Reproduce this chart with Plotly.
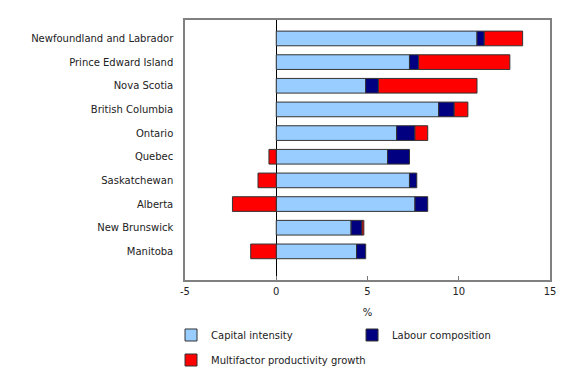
import plotly.graph_objects as go

provinces = ["Newfoundland and Labrador", "Prince Edward Island", "Nova Scotia",
             "British Columbia", "Ontario", "Quebec", "Saskatchewan", "Alberta",
             "New Brunswick", "Manitoba"]
capital_intensity = [11.0, 7.3, 4.9, 8.9, 6.6, 6.1, 7.3, 7.6, 4.1, 4.4]
labour_composition = [0.4, 0.5, 0.7, 0.85, 1.0, 1.2, 0.4, 0.7, 0.6, 0.5]
mfp_growth = [2.1, 5.0, 5.4, 0.75, 0.7, -0.4, -1.0, -2.4, 0.1, -1.4]
x_ticks = [-5, 0, 5, 10, 15]
x_tick_labels = ["-5", "0", "5", "10", "15"]

FONT = "DejaVu Sans"
line = dict(color="#333333", width=1)

fig = go.Figure()
fig.add_trace(go.Bar(y=provinces, x=capital_intensity, orientation="h",
                     name="Capital intensity", width=0.62, legend="legend",
                     marker=dict(color="#99CCFF", line=line)))
fig.add_trace(go.Bar(y=provinces, x=labour_composition, orientation="h",
                     name="Labour composition", width=0.62, legend="legend",
                     marker=dict(color="#000080", line=line)))
fig.add_trace(go.Bar(y=provinces, x=mfp_growth, orientation="h",
                     name="Multifactor productivity growth", width=0.62,
                     legend="legend2",
                     marker=dict(color="#FF0000", line=line)))

leg_common = dict(orientation="h", xref="container", yref="container",
                  xanchor="left", yanchor="middle",
                  font=dict(size=10, family=FONT, color="#222222"))

fig.update_layout(
    width=572, height=362,
    margin=dict(l=177, r=30, t=12, b=90, autoexpand=False),
    barmode="relative",
    plot_bgcolor="white", paper_bgcolor="white",
    font=dict(family=FONT, size=10, color="#222222"),
    showlegend=True,
    legend=dict(x=0.285, y=0.0967, entrywidth=136, **leg_common),
    legend2=dict(x=0.285, y=0.0276, **leg_common),
    xaxis=dict(range=[-5, 15], tickvals=x_ticks, ticktext=x_tick_labels,
               ticks="inside", ticklen=4, ticklabelstandoff=1, automargin=False,
               tickcolor="#777777", showgrid=False, zeroline=True,
               zerolinecolor="black", zerolinewidth=1,
               showline=True, linecolor="#808080", linewidth=1.5, mirror=True,
               title=dict(text="%", standoff=13, font=dict(size=10)),
               tickfont=dict(size=10)),
    yaxis=dict(categoryorder="array", categoryarray=provinces,
               range=[10.21, -0.78], showgrid=False, ticks="", automargin=False,
               showline=True, linecolor="#808080", linewidth=1.5, mirror=True,
               ticklabelstandoff=8, tickfont=dict(size=10)),
)

fig.write_html("out.html")
